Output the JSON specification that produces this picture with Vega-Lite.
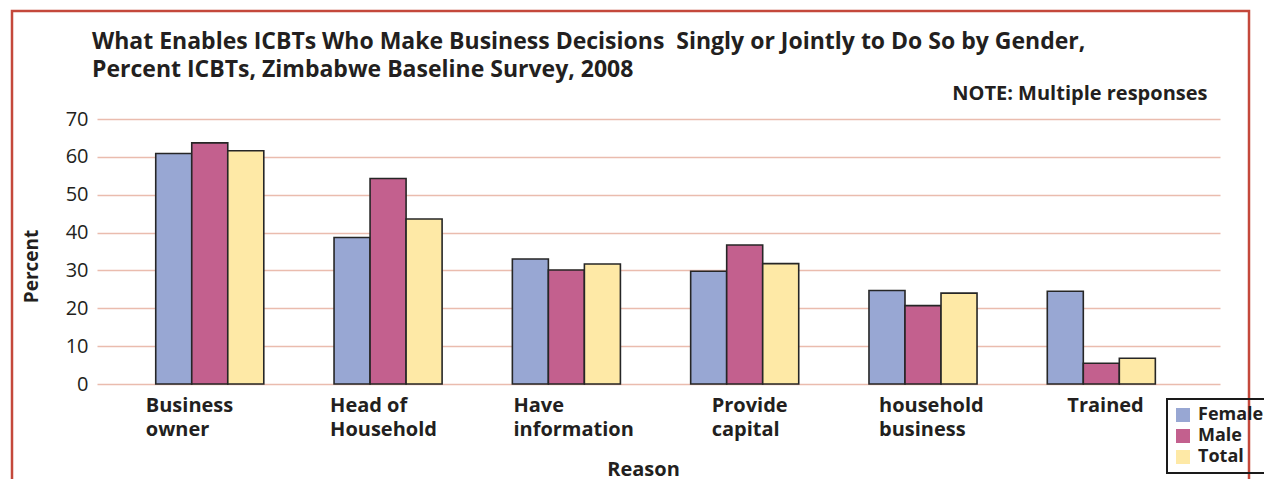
{
  "$schema": "https://vega.github.io/schema/vega-lite/v6.json",
  "width": 1237,
  "height": 480,
  "autosize": {"type": "none"},
  "padding": {"left": 12, "top": 11, "right": 15, "bottom": 0},
  "background": "white",
  "title": {
    "text": ["What Enables ICBTs Who Make Business Decisions\u00a0 Singly or Jointly to Do So by Gender,", "Percent ICBTs, Zimbabwe Baseline Survey, 2008"],
    "anchor": "start",
    "frame": "group",
    "dx": 80,
    "offset": -71,
    "baseline": "top",
    "font": "Open Sans",
    "fontSize": 23,
    "fontWeight": "bold",
    "lineHeight": 28,
    "color": "#231f20"
  },
  "data": {
    "values": [
      {"Reason": "Business owner", "Gender": "Female", "Percent": 60.9},
      {"Reason": "Business owner", "Gender": "Male", "Percent": 63.7},
      {"Reason": "Business owner", "Gender": "Total", "Percent": 61.6},
      {"Reason": "Head of Household", "Gender": "Female", "Percent": 38.7},
      {"Reason": "Head of Household", "Gender": "Male", "Percent": 54.3},
      {"Reason": "Head of Household", "Gender": "Total", "Percent": 43.6},
      {"Reason": "Have information", "Gender": "Female", "Percent": 33.0},
      {"Reason": "Have information", "Gender": "Male", "Percent": 30.1},
      {"Reason": "Have information", "Gender": "Total", "Percent": 31.7},
      {"Reason": "Provide capital", "Gender": "Female", "Percent": 29.8},
      {"Reason": "Provide capital", "Gender": "Male", "Percent": 36.7},
      {"Reason": "Provide capital", "Gender": "Total", "Percent": 31.8},
      {"Reason": "household business", "Gender": "Female", "Percent": 24.7},
      {"Reason": "household business", "Gender": "Male", "Percent": 20.7},
      {"Reason": "household business", "Gender": "Total", "Percent": 24.0},
      {"Reason": "Trained", "Gender": "Female", "Percent": 24.5},
      {"Reason": "Trained", "Gender": "Male", "Percent": 5.5},
      {"Reason": "Trained", "Gender": "Total", "Percent": 6.8}
    ]
  },
  "layer": [
    {
      "mark": {"type": "bar", "stroke": "#262626", "strokeWidth": 1.6},
      "encoding": {
        "x": {
          "field": "Reason",
          "type": "nominal",
          "sort": ["Business owner", "Head of Household", "Have information", "Provide capital", "household business", "Trained"],
          "scale": {"range": [85, 1208], "paddingInner": 0.394, "paddingOuter": 0.346, "align": 0.476},
          "axis": {
            "orient": "bottom",
            "offset": -107,
            "domain": false,
            "ticks": false,
            "grid": false,
            "labelAngle": 0,
            "labelAlign": "left",
            "labelBaseline": "top",
            "labelPadding": 11,
            "labelFontSize": 20,
            "labelFontWeight": "bold",
            "labelLineHeight": 24,
            "labelOverlap": false,
            "labelBound": false,
            "labelFlush": false,
            "labelExpr": "datum.label == 'Trained' ? 'Trained' : datum.label == 'Head of Household' ? ['Head of', 'Household'] : split(datum.label, ' ')",
            "labelOffset": {
              "condition": [
                {"test": "datum.value == 'Business owner'", "value": -64},
                {"test": "datum.value == 'Head of Household'", "value": -58},
                {"test": "datum.value == 'Have information'", "value": -53},
                {"test": "datum.value == 'Provide capital'", "value": -33},
                {"test": "datum.value == 'household business'", "value": -44}
              ],
              "value": -34
            },
            "title": "Reason",
            "titleX": 631,
            "titleY": 91,
            "titleAlign": "center",
            "titleBaseline": "alphabetic",
            "titleFontSize": 20,
            "titleFontWeight": "bold"
          }
        },
        "xOffset": {
          "field": "Gender",
          "type": "nominal",
          "sort": ["Female", "Male", "Total"],
          "scale": {"paddingInner": 0, "paddingOuter": 0}
        },
        "y": {
          "field": "Percent",
          "type": "quantitative",
          "scale": {"domain": [0, 70], "range": [373, 108], "nice": false, "zero": true},
          "axis": {
            "orient": "left",
            "offset": -85,
            "values": [0, 10, 20, 30, 40, 50, 60, 70],
            "domain": false,
            "ticks": false,
            "grid": true,
            "gridColor": "#eabcae",
            "gridWidth": 1.5,
            "labelPadding": 9,
            "labelFontSize": 20,
            "title": "Percent",
            "titleX": -66,
            "titleY": 255,
            "titleAngle": -90,
            "titleAlign": "center",
            "titleBaseline": "middle",
            "titleFontSize": 19,
            "titleFontWeight": "bold"
          }
        },
        "color": {
          "field": "Gender",
          "type": "nominal",
          "scale": {"domain": ["Female", "Male", "Total"], "range": ["#98a7d3", "#c3608e", "#fee9a6"]},
          "legend": {
            "orient": "none",
            "legendX": 1155,
            "legendY": 388,
            "title": null,
            "symbolType": "square",
            "symbolSize": 196,
            "symbolStrokeWidth": 0,
            "symbolOpacity": 1,
            "labelFontSize": 18,
            "labelFontWeight": "bold",
            "labelOffset": 6,
            "rowPadding": 3,
            "padding": 7,
            "strokeColor": "#1a1a1a"
          }
        }
      }
    },
    {
      "mark": {"type": "tick", "opacity": 0},
      "encoding": {
        "x": {
          "field": "Reason",
          "type": "nominal",
          "sort": ["Business owner", "Head of Household", "Have information", "Provide capital", "household business", "Trained"],
          "axis": {
            "orient": "top",
            "domain": false,
            "ticks": false,
            "labels": false,
            "grid": false,
            "title": "NOTE: Multiple responses",
            "titleX": 1195,
            "titleY": 88,
            "titleAlign": "right",
            "titleBaseline": "alphabetic",
            "titleFontSize": 20,
            "titleFontWeight": "bold"
          }
        }
      }
    }
  ],
  "resolve": {"axis": {"x": "independent"}},
  "config": {
    "font": "Open Sans",
    "view": {"stroke": "#c4483b", "strokeWidth": 2.5},
    "axis": {"labelColor": "#231f20", "titleColor": "#231f20", "labelFont": "Open Sans", "titleFont": "Open Sans"},
    "legend": {"labelColor": "#231f20", "labelFont": "Open Sans", "strokeWidth": 2}
  }
}
